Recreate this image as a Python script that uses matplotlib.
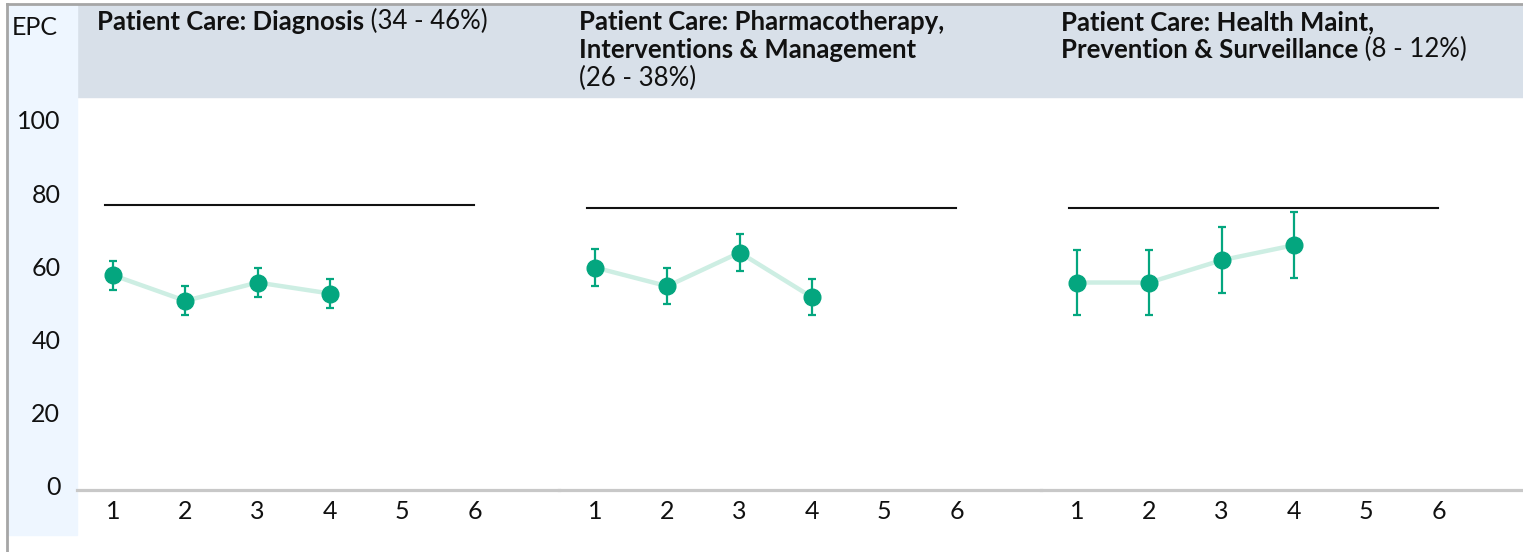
import matplotlib.pyplot as plt
import matplotlib.transforms as mtransforms
from matplotlib.patches import Rectangle
from matplotlib.lines import Line2D

plt.rcParams['font.family'] = ['Lato', 'DejaVu Sans']

# data
x = [1, 2, 3, 4]
xticks = [1, 2, 3, 4, 5, 6]
yticks = [0, 20, 40, 60, 80, 100]
title_lines = [['Patient Care: Diagnosis'],
               ['Patient Care: Pharmacotherapy,', 'Interventions & Management'],
               ['Patient Care: Health Maint,', 'Prevention & Surveillance']]
titles_range = ['(34 - 46%)', '(26 - 38%)', '(8 - 12%)']
range_newline = [False, True, False]
means = [[58.7, 51.7, 56.7, 53.7],
         [60.8, 55.7, 64.9, 52.7],
         [56.7, 56.7, 62.8, 66.9]]
errs = [4, 5, 9]
targets = [78, 77, 77]

W, H = 1523, 552
fig = plt.figure(figsize=(W / 100, H / 100), dpi=100)


def rect(x0, y0, x1, y1, color):
    fig.patches.append(Rectangle((x0 / W, 1 - y1 / H), (x1 - x0) / W, (y1 - y0) / H,
                                 transform=fig.transFigure, color=color, zorder=-5))


rect(77, 5, W, 97, '#d8e0e9')
rect(8, 5, 77, 535, '#eef6ff')
fig.lines.append(Line2D([7 / W, 1], [1 - 4 / H, 1 - 4 / H], transform=fig.transFigure,
                        color='#a6a6a6', lw=2))
fig.lines.append(Line2D([7 / W, 7 / W], [0, 1 - 4 / H], transform=fig.transFigure,
                        color='#a6a6a6', lw=2))

txt = '#111111'
fs = 18
tfs = 18.5
fig.text(12 / W, 1 - 35 / H, 'EPC', fontsize=fs, va='baseline', ha='left', color=txt)

green = '#04a67f'
light = '#cdeee3'
pw = 482
up = mtransforms.ScaledTranslation(0, 3 / 72, fig.dpi_scale_trans)
for i in range(3):
    left = 77 + i * pw
    ax = fig.add_axes([left / W, (H - 490) / H, pw / W, (490 - 97) / H])
    ax.set_facecolor('none')
    ax.set_xlim(0.5, 7.17)
    ax.set_ylim(0, 107.4)
    for s in ['top', 'left', 'right']:
        ax.spines[s].set_visible(False)
    ax.spines['bottom'].set_color('#c8c8c8')
    ax.spines['bottom'].set_linewidth(2.3)
    ax.set_xticks(xticks)
    ax.set_xticklabels([str(t) for t in xticks], fontsize=fs, color=txt)
    ax.tick_params(axis='x', length=0, pad=7)
    if i == 0:
        ax.set_yticks(yticks)
        ax.set_yticklabels([str(t) for t in yticks], fontsize=fs, color=txt)
        ax.tick_params(axis='y', length=0, pad=12)
        for lab in ax.get_yticklabels():
            lab.set_transform(lab.get_transform() + up)
    else:
        ax.set_yticks([])

    ax.plot([0.89, 6], [targets[i], targets[i]], color='#111111', lw=1.5)
    ax.plot(x, means[i], color=light, lw=3.2, zorder=2)
    ax.errorbar(x, means[i], yerr=errs[i], fmt='o', color=green, ms=12,
                ecolor=green, elinewidth=1.6, capsize=3, capthick=1.6, zorder=3)

    # titles: bold lines, then the range in regular weight
    for j, line in enumerate(title_lines[i]):
        tb = fig.text((left + 20) / W, 1 - (30 + 28 * j) / H, line, fontsize=tfs,
                      fontweight='bold', va='baseline', ha='left', color=txt)
    if range_newline[i]:
        n = len(title_lines[i])
        fig.text((left + 20) / W, 1 - (30 + 28 * n) / H, titles_range[i], fontsize=tfs,
                 va='baseline', ha='left', color=txt)
    else:
        ax.annotate(' ' + titles_range[i], xy=(1, 0), xycoords=tb, va='bottom',
                    ha='left', fontsize=tfs, color=txt, annotation_clip=False)

fig.savefig('out.png', dpi=100)
